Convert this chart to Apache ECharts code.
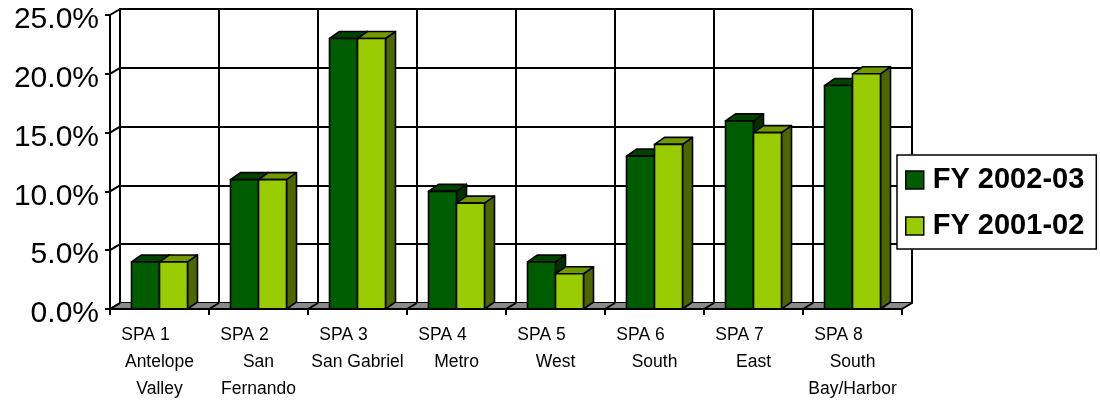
<!DOCTYPE html>
<html>
<head>
<meta charset="utf-8">
<script src="https://cdn.jsdelivr.net/npm/echarts@6/dist/echarts.min.js"></script>
<style>
html,body{margin:0;padding:0;background:#fff;}
#chart{width:1100px;height:402px;}
</style>
</head>
<body>
<div id="chart"></div>
<script>
// ---- data ----
const spaCodes = ['SPA 1','SPA 2','SPA 3','SPA 4','SPA 5','SPA 6','SPA 7','SPA 8'];
const spaNames = ['Antelope\nValley','San\nFernando','San Gabriel','Metro','West','South','East','South\nBay/Harbor'];
const seriesNames = ['FY 2002-03','FY 2001-02'];
const fy0203 = [4, 11, 23, 10, 4, 13, 16, 19];
const fy0102 = [4, 11, 23, 9, 3, 14, 15, 20];
const yTicks = [0, 5, 10, 15, 20, 25];

// ---- style constants ----
const FONT = '"Liberation Sans", Arial, sans-serif';
const DX = 10, DY = -6;       // wall depth offset
const BDX = 10, BDY = -7;     // bar depth offset
const LW = 2;
const colors = [
  {front:'#005c00', top:'#004400', side:'#003300'},
  {front:'#99cc00', top:'#739900', side:'#4d6600'}
];

const chart = echarts.init(document.getElementById('chart'), null, {renderer:'canvas'});

const catData = spaCodes.map((c, i) => c + '\n' + spaNames[i]);

function barRender(si) {
  return function (params, api) {
    const ci = api.value(0), v = api.value(1);
    const top = api.coord([ci, v]);
    const base = api.coord([ci, 0]);
    const bw = api.size([1, 0])[0];
    const barW = bw * 28 / 99;
    const cx = top[0];
    const x0 = si === 0 ? cx - barW : cx;
    const x1 = x0 + barW;
    const yt = top[1], yb = base[1];
    const c = colors[si];
    const st = {stroke:'#000', lineWidth:1.6, lineJoin:'round'};
    return {
      type:'group',
      children:[
        {type:'polygon', shape:{points:[[x1,yt],[x1+BDX,yt+BDY],[x1+BDX,yb+BDY],[x1,yb]]}, style:Object.assign({fill:c.side}, st)},
        {type:'polygon', shape:{points:[[x0,yt],[x0+BDX,yt+BDY],[x1+BDX,yt+BDY],[x1,yt]]}, style:Object.assign({fill:c.top}, st)},
        {type:'rect', shape:{x:x0, y:yt, width:barW, height:yb-yt}, style:Object.assign({fill:c.front}, st)}
      ]
    };
  };
}

function frameRender(params, api) {
  const cs = params.coordSys;
  const x0 = cs.x, x1 = cs.x + cs.width, yb = cs.y + cs.height;
  const n = spaCodes.length;
  const children = [
    {type:'polygon', shape:{points:[[x0,yb],[x1,yb],[x1+DX,yb+DY],[x0+DX,yb+DY]]}, style:{fill:'#8a8a8a', stroke:null}}
  ];
  for (let k = 0; k <= n; k++) {
    const x = x0 + k * cs.width / n;
    children.push({type:'line', shape:{x1:x, y1:yb, x2:x+DX, y2:yb+DY}, style:{stroke:'#000', lineWidth:LW}});
  }
  yTicks.forEach(v => {
    const y = api.coord([0, v])[1];
    children.push({type:'line', shape:{x1:x0, y1:y, x2:x0+DX, y2:y+DY}, style:{stroke:'#000', lineWidth:LW}});
  });
  return {type:'group', children};
}

const labelRich = {
  c:{fontFamily:FONT, fontSize:17.5, lineHeight:27, color:'#000', align:'center'},
  g:{width:28, fontSize:17.5, lineHeight:27, align:'center'},
  n:{fontFamily:FONT, fontSize:17.5, lineHeight:27, color:'#000', align:'center'}
};

const option = {
  backgroundColor:'#fff',
  animation:false,
  legend:{
    data:seriesNames,
    orient:'vertical',
    left:897, top:155,
    padding:[10, 12, 8, 8],
    itemGap:16,
    itemWidth:18, itemHeight:18,
    icon:'rect',
    backgroundColor:'#fff',
    borderColor:'#000', borderWidth:1.5,
    itemStyle:{borderColor:'#000', borderWidth:1.5},
    textStyle:{fontFamily:FONT, fontSize:29, fontWeight:'bold', color:'#000', lineHeight:30, padding:[0,0,0,4]}
  },
  grid:[
    {left:110, top:15, width:792, height:294},
    {left:110+DX, top:15+DY, width:792, height:294}
  ],
  xAxis:[
    {type:'category', gridIndex:0, data:catData, boundaryGap:true, z:5,
     axisLine:{show:true, lineStyle:{color:'#000', width:LW}},
     axisTick:{show:true, interval:0, length:6, lineStyle:{color:'#000', width:LW}},
     splitLine:{show:false},
     axisLabel:{interval:0, margin:13, formatter:function(val, idx){
        const code = spaCodes[idx];
        const names = spaNames[idx].split('\n');
        return '{c|' + code + '}{g| }\n' + names.map(s => '{n|' + s + '}').join('\n');
     }, rich:labelRich}},
    {type:'category', gridIndex:1, data:catData, boundaryGap:true,
     axisLine:{show:true, lineStyle:{color:'#000', width:LW}},
     axisTick:{show:false}, axisLabel:{show:false},
     splitLine:{show:true, interval:0, lineStyle:{color:'#000', width:LW}}}
  ],
  yAxis:[
    {type:'value', gridIndex:0, min:0, max:25, interval:5, z:5,
     axisLine:{show:true, lineStyle:{color:'#000', width:LW}},
     axisTick:{show:true, length:5, lineStyle:{color:'#000', width:LW}},
     splitLine:{show:false},
     axisLabel:{margin:11, fontFamily:FONT, fontSize:30, color:'#000', verticalAlign:'top', lineHeight:10,
       formatter:function(v){return v.toFixed(1) + '%';}}},
    {type:'value', gridIndex:1, min:0, max:25, interval:5,
     axisLine:{show:true, lineStyle:{color:'#000', width:LW}},
     axisTick:{show:false}, axisLabel:{show:false},
     splitLine:{show:true, lineStyle:{color:'#000', width:LW}}}
  ],
  series:[
    {type:'custom', name:'frame', xAxisIndex:0, yAxisIndex:0, z:1, silent:true,
     renderItem:frameRender, data:[[0,0]]},
    {type:'custom', name:seriesNames[0], xAxisIndex:0, yAxisIndex:0, z:3,
     itemStyle:{color:colors[0].front},
     renderItem:barRender(0), data:fy0203.map((v,i)=>[i,v])},
    {type:'custom', name:seriesNames[1], xAxisIndex:0, yAxisIndex:0, z:4,
     itemStyle:{color:colors[1].front},
     renderItem:barRender(1), data:fy0102.map((v,i)=>[i,v])}
  ]
};
chart.setOption(option);
</script>
</body>
</html>
